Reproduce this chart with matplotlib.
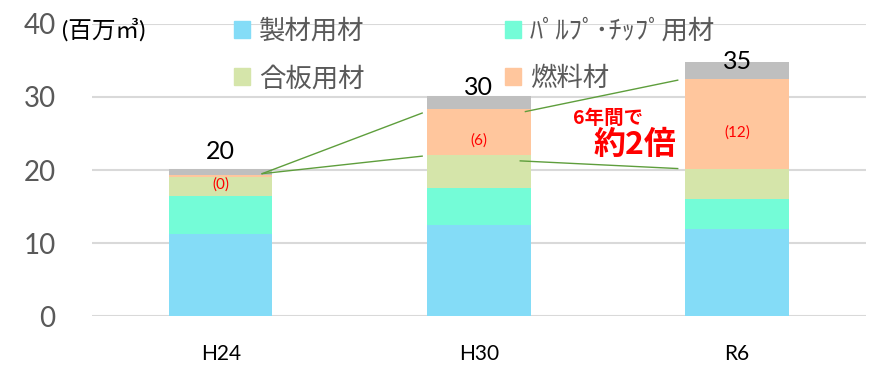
import matplotlib
matplotlib.use("Agg")
import matplotlib.pyplot as plt
import numpy as np
from matplotlib.patches import Patch

plt.rcParams['font.family'] = ['Lato', 'Noto Sans CJK JP', 'DejaVu Sans']

# 木材需要の内訳（百万㎥）
years = ["H24", "H30", "R6"]
seizai = [11.2, 12.5, 11.9]      # 製材用材
pulp = [5.3, 5.1, 4.2]           # パルプ・チップ用材
gouban = [2.6, 4.45, 4.0]        # 合板用材
nenryo = [0.2, 6.25, 12.3]       # 燃料材
sonota = [0.9, 1.8, 2.35]        # その他
totals = [20, 30, 35]
nenryo_labels = ["(0)", "(6)", "(12)"]

series = [seizai, pulp, gouban, nenryo, sonota]
names = ["製材用材", "ﾊﾟﾙﾌﾟ･ﾁｯﾌﾟ用材", "合板用材", "燃料材", "その他"]
colors = ["#84DCF7", "#74FCD7", "#D5E5AA", "#FFC69D", "#BFBFBF"]

fig = plt.figure(figsize=(8.74, 3.68), dpi=100)
ax = fig.add_axes([0.105, 0.141, 0.886, 0.794])

x = np.arange(len(years))
w = 0.4
bottom = np.zeros(len(years))
for vals, c in zip(series, colors):
    ax.bar(x, vals, w, bottom=bottom, color=c, zorder=2)
    bottom += np.array(vals)
tops = bottom.copy()

# 燃料材の上下端
fuel_lo = np.array(seizai) + np.array(pulp) + np.array(gouban)
fuel_hi = fuel_lo + np.array(nenryo)

# 合計ラベル
total_offsets = [4, -2, -8]
for xi, t, tot, off in zip(x, tops, totals, total_offsets):
    ax.annotate(str(tot), (xi, t), xytext=(0, off), textcoords='offset points',
                ha='center', va='bottom', fontsize=18, color='black', zorder=4)

# 燃料材ラベル
for xi, lo, hi, lab in zip(x, fuel_lo, fuel_hi, nenryo_labels):
    ax.annotate(lab, (xi, (lo + hi) / 2), xytext=(0, -6), textcoords='offset points',
                ha='center', va='center', fontsize=11, color='#FF0000', zorder=4)

# 燃料材の伸びを示す補助線
lc = '#5E9E3C'
ax.plot([x[0] + 0.16, x[1] - 0.22], [fuel_hi[0] + 0.2, fuel_hi[1] - 0.5], color=lc, lw=1, zorder=3)
ax.plot([x[0] + 0.16, x[1] - 0.22], [fuel_hi[0] + 0.2, fuel_lo[1] - 0.15], color=lc, lw=1, zorder=3)
ax.plot([x[1] + 0.18, x[2] - 0.23], [fuel_hi[1] - 0.3, fuel_hi[2] - 0.1], color=lc, lw=1, zorder=3)
ax.plot([x[1] + 0.16, x[2] - 0.23], [fuel_lo[1] - 0.8, fuel_lo[2] + 0.1], color=lc, lw=1, zorder=3)

ax.text(1.50, 27.1, "6年間で", ha='center', va='center', fontsize=14,
        fontweight='bold', color='#FF0000', family=['Noto Sans CJK JP'], zorder=4)
ax.text(1.604, 23.4, "約2倍", ha='center', va='center', fontsize=23,
        fontweight='bold', color='#FF0000', family=['Noto Sans CJK JP'], zorder=4)

ax.set_xlim(-0.5, 2.5)
ax.set_ylim(0, 40)
ax.set_yticks([0, 10, 20, 30, 40])
ax.set_xticks(x)
ax.set_xticklabels(years, fontsize=15, color='black')
ax.tick_params(axis='y', length=0, pad=26, labelsize=20, labelcolor='#595959')
ax.tick_params(axis='x', length=0, pad=20)
ax.grid(axis='y', color='#D9D9D9', lw=1.5, zorder=0)
for s in ax.spines.values():
    s.set_visible(False)

fig.text(0.071, 0.918, "(百万㎥)", ha='left', va='center', fontsize=17, color='black')

order = [0, 2, 1, 3]
handles = [Patch(color=colors[i]) for i in order]
labels = [names[i] for i in order]
fig.legend(handles, labels, loc='upper left', bbox_to_anchor=(0.253, 0.985), ncol=2,
           frameon=False, fontsize=19, handlelength=0.6, handleheight=0.6,
           handletextpad=0.35, labelspacing=0.85, columnspacing=5.3, borderpad=0,
           labelcolor='#595959')

fig.savefig("out.png", dpi=100)
